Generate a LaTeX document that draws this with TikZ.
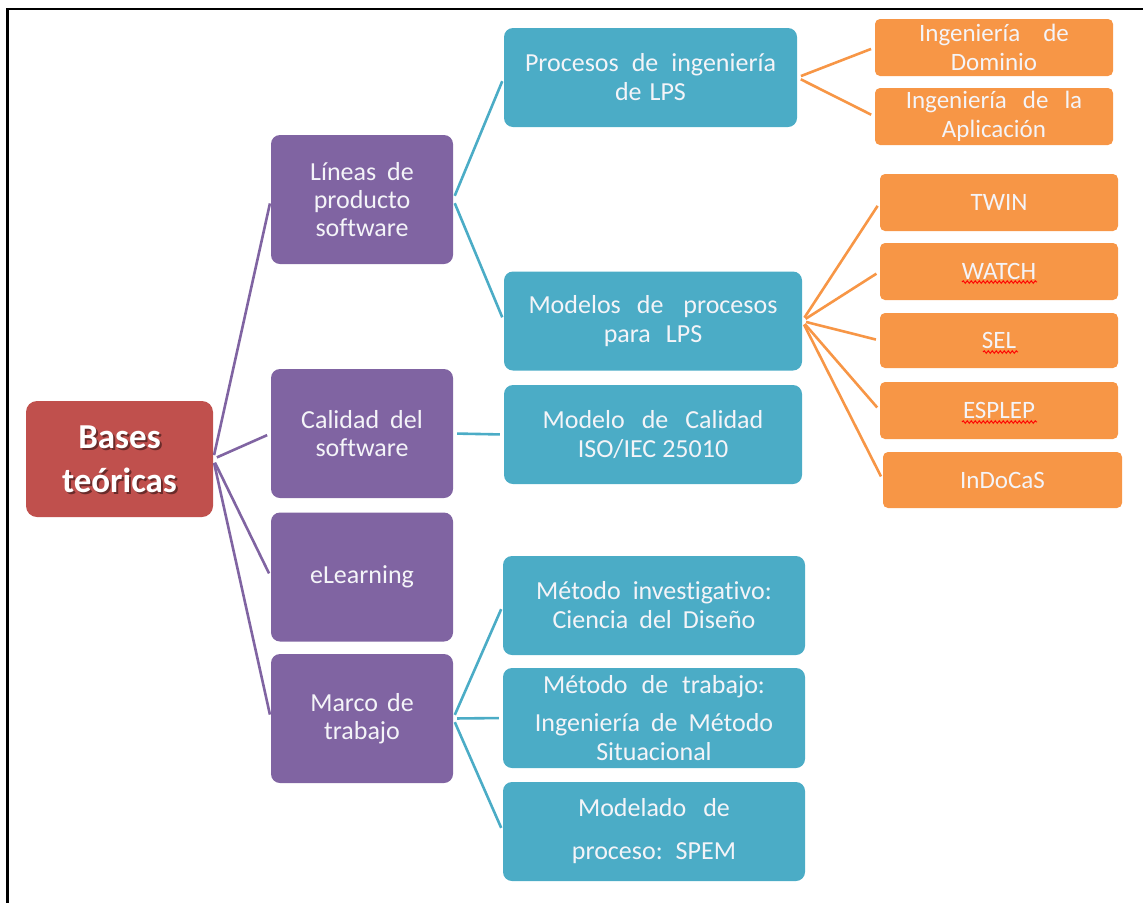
\documentclass[tikz,border=0pt]{standalone}
\usepackage{fontspec}
\setmainfont{Carlito}[Ligatures={NoCommon}]
\usetikzlibrary{decorations.pathmorphing}

\definecolor{rootred}{HTML}{C0504D}
\definecolor{lavender}{HTML}{8064A2}
\definecolor{aqua}{HTML}{4BACC6}
\definecolor{tangerine}{HTML}{F79646}
\definecolor{paletext}{HTML}{F4F4F8}

% explicit word gap, in points
\newcommand\wsp[1]{\hspace{#1pt}}

\begin{document}
\begin{tikzpicture}[x=1pt,y=-1pt,
  box/.style={rectangle, rounded corners=9pt, inner sep=0pt, align=center, text=paletext},
  rootfill/.style={rectangle, rounded corners=11pt, fill=rootred, minimum width=187pt, minimum height=116pt},
  roottext/.style={rectangle, inner sep=0pt, align=center, minimum width=187pt, minimum height=116pt,
    font=\fontsize{35}{44}\selectfont\bfseries},
  lvlone/.style={box, fill=lavender, minimum width=182pt, minimum height=129pt, font=\fontsize{26}{28}\selectfont},
  lvltwo/.style={box, fill=aqua, minimum width=298pt, minimum height=99pt, font=\fontsize{26}{29}\selectfont},
  lvlthree/.style={box, fill=tangerine, minimum width=238pt, minimum height=57pt, rounded corners=5pt,
    font=\fontsize{25}{29}\selectfont},
  link/.style={line width=2.6pt, shorten <=4pt, shorten >=4pt},
  purpleline/.style={link, lavender},
  aqualine/.style={link, aqua},
  orangeline/.style={link, tangerine},
  squiggle/.style={red, line width=0.9pt, decorate,
    decoration={snake, segment length=4pt, amplitude=1.3pt}},
  frameline/.style={black, line width=2.8pt}
]
\useasboundingbox (0,0) rectangle (1143,903);

% page frame (top and left edges)
\draw[frameline] (1143,9) -- (7.5,9) -- (7.5,903);

% root
\node[rootfill] (rootbg) at (119.5,459) {};
\node[roottext, text=black, opacity=.45] (rootshadow) at (121.5,461) {Bases\\teóricas};
\node[roottext, text=white] (root) at (119.5,459) {Bases\\teóricas};

% first level
\node[lvlone] (lps) at (362,199.5) {Líneas\wsp{11}de\\producto\\software};
\node[lvlone] (cal) at (362,433.5) {Calidad\wsp{11}del\\software};
\node[lvlone] (elr) at (362,577) {eLearning};
\node[lvlone] (mar) at (362,718.5) {Marco\wsp{9}de\\trabajo};

% second level
\node[lvltwo, minimum width=293pt] (proc) at (650.5,77.5) {Procesos\wsp{13}de\wsp{13}ingeniería\\de\wsp{8}LPS};
\node[lvltwo] (mod) at (653,321) {Modelos\wsp{16}de\wsp{20}procesos\\para\wsp{15}LPS};
\node[lvltwo] (iso) at (653,434.5) {Modelo\wsp{17}de\wsp{17}Calidad\\ISO/IEC\wsp{6}25010};
\node[lvltwo, minimum width=302pt] (inv) at (654,605.5) {Método\wsp{12}investigativo:\\Ciencia\wsp{11}del\wsp{11}Diseño};
\node[lvltwo, minimum width=302pt, minimum height=100pt] (trab) at (654,718) {Método\wsp{14}de\wsp{14}trabajo:\\[9pt]Ingeniería\wsp{11}de\wsp{11}Método\\Situacional};
\node[lvltwo, minimum width=302pt] (spem) at (654,831.5) {Modelado\wsp{17}de\\[14pt]proceso:\wsp{13}SPEM};

% third level
\node[lvlthree] (dom) at (994,47.5) {Ingeniería\wsp{23}de\\Dominio};
\node[lvlthree] (apl) at (994,116.5) {Ingeniería\wsp{16}de\wsp{16}la\\Aplicación};
\node[lvlthree] (twin) at (999,202.5) {TWIN};
\node[lvlthree] (watch) at (999,271.5) {WATCH};
\node[lvlthree, minimum height=55pt] (sel) at (999,340.5) {SEL};
\node[lvlthree] (esplep) at (999,410.5) {ESPLEP};
\node[lvlthree, minimum width=239pt, minimum height=56pt] (indocas) at (1002.5,480) {InDoCaS};

% spell-check marks under the acronyms
\draw[squiggle] ([xshift=-37pt,yshift=-10.5pt]watch.center) -- ++(75,0);
\draw[squiggle] ([xshift=-16pt,yshift=-11.5pt]sel.center) -- ++(35,0);
\draw[squiggle] ([xshift=-37pt,yshift=-11.5pt]esplep.center) -- ++(75,0);

% connectors
\foreach \c in {lps,cal,elr,mar}
  \draw[purpleline] (root.east) -- (\c.west);
\draw[aqualine] (lps.east) -- (proc.west);
\draw[aqualine] (lps.east) -- (mod.west);
\draw[aqualine] (cal.east) -- (iso.west);
\foreach \c in {inv,trab,spem}
  \draw[aqualine] (mar.east) -- (\c.west);
\foreach \c in {dom,apl}
  \draw[orangeline] (proc.east) -- (\c.west);
\foreach \c in {twin,watch,sel,esplep,indocas}
  \draw[orangeline] (mod.east) -- (\c.west);
\end{tikzpicture}
\end{document}
